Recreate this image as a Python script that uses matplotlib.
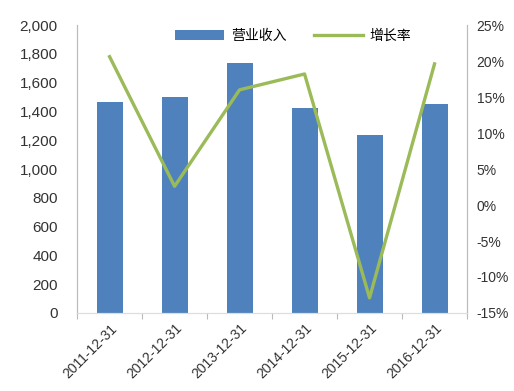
import matplotlib
matplotlib.use("Agg")
import matplotlib.pyplot as plt
from matplotlib.ticker import FuncFormatter

plt.rcParams['font.family'] = ['Liberation Sans', 'Noto Sans CJK SC', 'DejaVu Sans']

categories = ['2011-12-31', '2012-12-31', '2013-12-31', '2014-12-31', '2015-12-31', '2016-12-31']
revenue = [1465, 1500, 1736, 1424, 1236, 1451]
growth = [20.6, 2.6, 16.0, 18.2, -12.9, 19.6]

fig = plt.figure(figsize=(5.14, 3.91), dpi=100)
ax = fig.add_axes([0.15, 0.1995, 0.7586, 0.7365])
x = list(range(len(categories)))
bars = ax.bar(x, revenue, width=0.4, color='#4F81BD', label='营业收入', zorder=2)
ax.set_xlim(-0.5, len(categories) - 0.5)
ax.set_ylim(0, 2000)
ax.set_yticks(range(0, 2001, 200))
ax.yaxis.set_major_formatter(FuncFormatter(lambda v, p: f'{int(v):,}'))
ax.set_xticks([i - 0.5 for i in range(len(categories) + 1)], minor=False)
ax.set_xticklabels([])
ax.set_xticks(x, minor=True)
ax.set_xticklabels(categories, minor=True, rotation=45, ha='right', rotation_mode='anchor', fontsize=10, color='#333333')
ax.tick_params(axis='x', which='minor', length=0, pad=6)
ax.tick_params(axis='x', which='major', length=4, color='#BBBBBB', direction='out')
ax.tick_params(axis='y', length=0, labelsize=11, labelcolor='#333333', pad=14)

ax2 = ax.twinx()
line, = ax2.plot(x, growth, color='#9BBB59', lw=2.4, label='增长率', zorder=3)
ax2.set_ylim(-15, 25)
ax2.set_yticks(range(-15, 26, 5))
ax2.yaxis.set_major_formatter(FuncFormatter(lambda v, p: f'{int(v)}%'))
ax2.tick_params(axis='y', length=0, labelsize=10, labelcolor='#333333', pad=7)

for a in (ax, ax2):
    a.spines['top'].set_visible(False)
    a.spines['left'].set_color('#BBBBBB')
    a.spines['right'].set_color('#BBBBBB')
    a.spines['bottom'].set_color('#DDDDDD')

leg = ax.legend([bars, line], ['营业收入', '增长率'], loc='upper center', bbox_to_anchor=(0.555, 1.03),
                ncol=2, frameon=False, fontsize=10, handlelength=3.5, columnspacing=2, handletextpad=0.5)

fig.savefig('out.png', dpi=100)
